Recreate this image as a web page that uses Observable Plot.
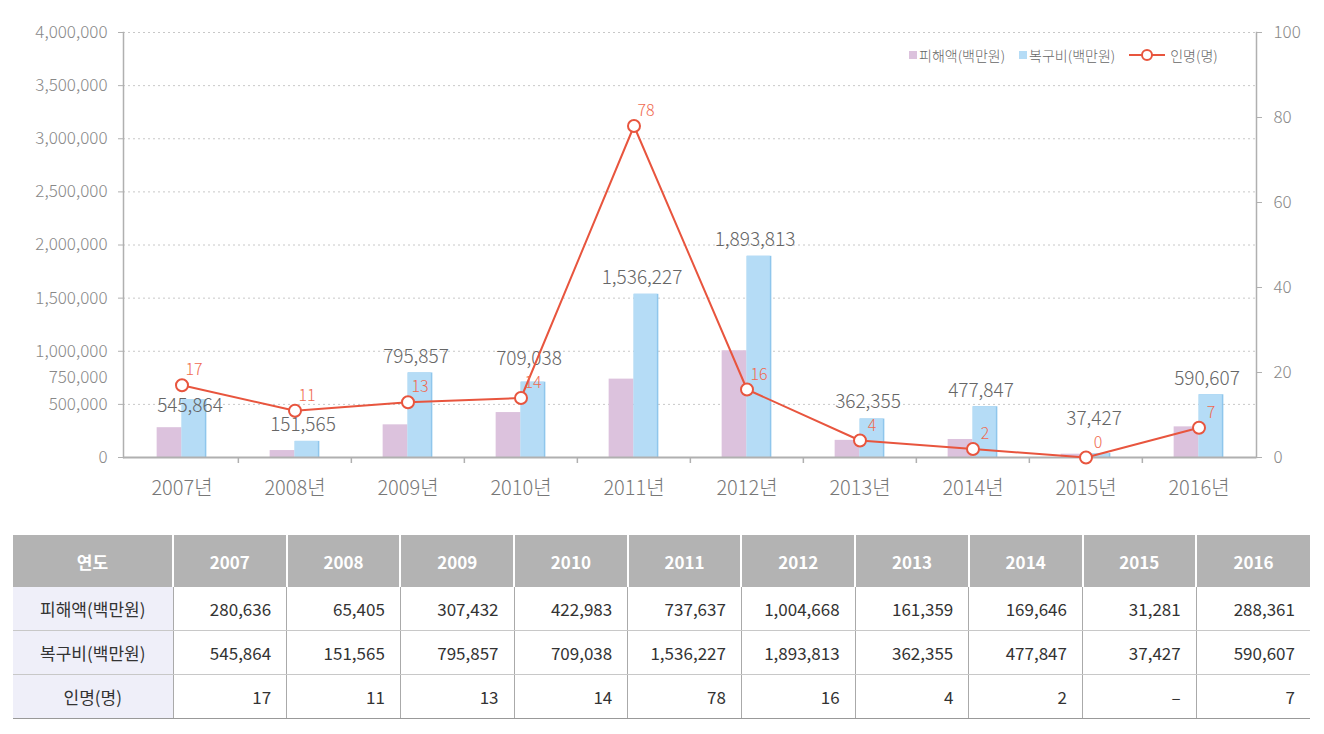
<!DOCTYPE html>
<html><head><meta charset="utf-8">
<script src="https://cdn.jsdelivr.net/npm/d3@7"></script>
<script src="https://cdn.jsdelivr.net/npm/@observablehq/plot@0.6"></script>
<style>
body{margin:0;background:#fff;font-family:'Noto Sans CJK KR','Noto Sans',sans-serif;}
#wrap{position:relative;width:1324px;}
#legend{position:absolute;top:45px;left:909px;font-size:14px;color:#666;display:flex;align-items:center;white-space:nowrap;font-weight:300;}
#legend .sw{display:inline-block;width:8px;height:8px;margin-right:2px;}
#legend .item{display:flex;align-items:center;margin-right:14px;}
#tbl{margin-left:13px;margin-top:18px;border-collapse:collapse;table-layout:fixed;width:1297px;font-size:17px;color:#333;}
#tbl th{background:#b3b3b3;color:#fff;font-weight:bold;height:52px;border-left:2px solid #fff;padding:0;}
#tbl th:first-child{border-left:none;}
#tbl td{height:43px;border-bottom:1px solid #c8c8c8;border-left:1px solid #aaa;text-align:right;padding:0 15px 0 0;}
#tbl td.lab{background:#efeff9;text-align:center;padding:0;border-left:none;}
#tbl tr:last-child td{border-bottom:1px solid #999;}
</style></head><body>
<div id="wrap"><div id="chart"></div><div id="legend"></div><table id="tbl"></table></div>
<script>
const years = ["2007","2008","2009","2010","2011","2012","2013","2014","2015","2016"];
const damage = [280636, 65405, 307432, 422983, 737637, 1004668, 161359, 169646, 31281, 288361];
const recovery = [545864, 151565, 795857, 709038, 1536227, 1893813, 362355, 477847, 37427, 590607];
const casualties = [17, 11, 13, 14, 78, 16, 4, 2, 0, 7];
const casualtyText = ["17","11","13","14","78","16","4","2","–","7"];
const seriesNames = ["피해액(백만원)", "복구비(백만원)", "인명(명)"];
const headerLabel = "연도";
const leftTicks = [0, 500000, 750000, 1000000, 1500000, 2000000, 2500000, 3000000, 3500000, 4000000];
const gridTicks = [500000, 1000000, 1500000, 2000000, 2500000, 3000000, 3500000, 4000000];
const leftTickMarks = [0, 500000, 1000000, 1500000, 2000000, 2500000, 3000000, 3500000, 4000000];
const rightTicks = [0, 20, 40, 60, 80, 100];
const yMax = 4000000, rMax = 100;

const W = 1324, H = 517, mL = 123, mR = 68, mT = 32, mB = 60;
const bw = (W - mL - mR) / years.length;
const barW = 25;
const k = yMax / rMax;
const pink = "#dcc2dd", blue = "#b5dcf6", blueEdge = "#8fc6ec", red = "#e8553e";
const fmt = d3.format(",");

const rows = years.map((y, i) => ({year: y, damage: damage[i], recovery: recovery[i], casualties: casualties[i]}));

// place each bar value label above its bar, avoiding the casualty label
const yPx = Plot.scale({y: {domain: [0, yMax], range: [H - mB, mT]}});
function recoveryLabelY(d) {
  const barTop = yPx.apply(d.recovery);
  const pt = yPx.apply(d.casualties * k);
  const casLab = pt - 15;
  let lab = barTop - 16;
  if (Math.abs(lab - casLab) < 24) lab = casLab < lab ? pt + 21 : casLab - 24;
  return yPx.invert(lab);
}

const font = "'Noto Sans CJK KR','Noto Sans',sans-serif";
const chart = Plot.plot({
  width: W, height: H,
  marginLeft: mL, marginRight: mR, marginTop: mT, marginBottom: mB,
  style: {fontFamily: font, background: "#fff", fontWeight: 300},
  x: {type: "band", domain: years, padding: 0, label: null},
  y: {domain: [0, yMax], label: null},
  marks: [
    Plot.gridY(gridTicks, {stroke: "#c8c8c8", strokeOpacity: 1, strokeDasharray: "2,3"}),
    Plot.barY(rows, {x: "year", y: "damage", fill: pink, insetLeft: bw / 2 - barW, insetRight: bw / 2}),
    Plot.barY(rows, {x: "year", y: "recovery", fill: blueEdge, insetLeft: bw / 2, insetRight: bw / 2 - barW}),
    Plot.barY(rows, {x: "year", y: "recovery", fill: blue, insetLeft: bw / 2, insetRight: bw / 2 - barW + 1.5}),
    Plot.ruleY([0], {stroke: "#b0b0b0", strokeWidth: 2}),
    Plot.frame({anchor: "left", stroke: "#b0b0b0", strokeWidth: 1.5}),
    Plot.frame({anchor: "right", stroke: "#b0b0b0", strokeWidth: 1.5}),
    Plot.ruleX(years.slice(1), {x: d => d, y1: 0, y2: 0, insetBottom: -6, dx: -bw / 2, stroke: "#b0b0b0", strokeWidth: 1.5}),
    Plot.text(rows, {x: "year", y: recoveryLabelY, text: d => fmt(d.recovery), dx: 8, fill: "#666", fontSize: 19}),
    Plot.line(rows, {x: "year", y: d => d.casualties * k, stroke: red, strokeWidth: 2}),
    Plot.dot(rows, {x: "year", y: d => d.casualties * k, r: 6, fill: "#fff", stroke: red, strokeWidth: 2}),
    Plot.text(rows, {x: "year", y: d => d.casualties * k, text: d => String(d.casualties), dx: 12, dy: -15, fill: "#f06a50", fontSize: 16}),
    Plot.axisY(leftTicks, {anchor: "left", tickSize: 0, tickPadding: 16, tickFormat: fmt, fill: "#888", fontSize: 17, label: null}),
    Plot.axisY(leftTickMarks, {anchor: "left", tickSize: 5, tickFormat: () => "", stroke: "#b0b0b0", label: null}),
    Plot.axisY(rightTicks.map(v => v * k), {anchor: "right", tickSize: 5, tickPadding: 12, tickFormat: d => String(d / k), fill: "#888", stroke: "#b0b0b0", fontSize: 17, label: null}),
    Plot.axisX({tickSize: 0, tickPadding: 23, tickFormat: d => d + "년", fill: "#777", fontSize: 20, label: null})
  ]
});
document.getElementById("chart").appendChild(chart);

// legend
const legend = document.getElementById("legend");
legend.innerHTML =
  `<span class="item"><span class="sw" style="background:${pink}"></span>${seriesNames[0]}</span>` +
  `<span class="item"><span class="sw" style="background:${blue}"></span>${seriesNames[1]}</span>` +
  `<span class="item"><svg width="36" height="14" style="margin-right:5px"><line x1="0" y1="7" x2="36" y2="7" stroke="${red}" stroke-width="2"/><circle cx="18" cy="7" r="5" fill="#fff" stroke="${red}" stroke-width="2"/></svg>${seriesNames[2]}</span>`;

// table
const tbl = document.getElementById("tbl");
let html = `<colgroup><col style="width:160px">${years.map(() => `<col>`).join("")}</colgroup>`;
html += `<tr><th>${headerLabel}</th>${years.map(y => `<th>${y}</th>`).join("")}</tr>`;
html += `<tr><td class="lab">${seriesNames[0]}</td>${damage.map(v => `<td>${fmt(v)}</td>`).join("")}</tr>`;
html += `<tr><td class="lab">${seriesNames[1]}</td>${recovery.map(v => `<td>${fmt(v)}</td>`).join("")}</tr>`;
html += `<tr><td class="lab">${seriesNames[2]}</td>${casualtyText.map(v => `<td>${v}</td>`).join("")}</tr>`;
tbl.innerHTML = html;
</script>
</body></html>
